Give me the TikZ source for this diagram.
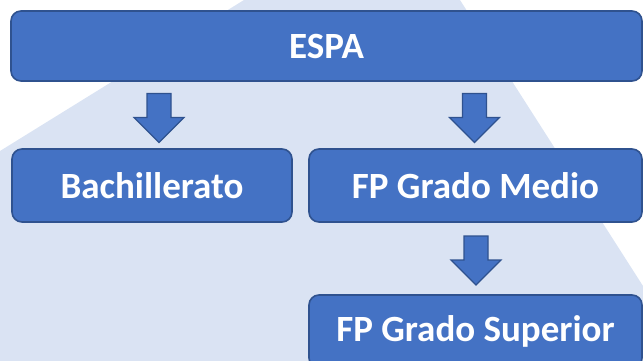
\documentclass[tikz,border=0pt]{standalone}
\usepackage{fontspec}
\setmainfont{Carlito}
\definecolor{boxfill}{HTML}{4472C4}
\definecolor{boxline}{HTML}{2F528F}
\definecolor{bgblue}{HTML}{DAE3F3}
\tikzset{
  stagebox/.style={rectangle, rounded corners=10pt, fill=boxfill, draw=boxline, line width=1.6pt,
    text=white, font=\fontsize{37}{44}\selectfont\bfseries, inner sep=0pt},
  blockarrow/.style={fill=boxfill, draw=boxline, line width=1.2pt, line join=miter}
}
\newcommand{\downblock}[1]{%
  \draw[blockarrow, shift={(#1)}] (-12,0) -- (12,0) -- (12,24) -- (25,24) -- (0,49)
    -- (-25,24) -- (-12,24) -- cycle;}
\begin{document}
\begin{tikzpicture}[x=1pt,y=-1pt]
\useasboundingbox (0,0) rectangle (643,361);
\clip (0,0) rectangle (643,361);
\fill[bgblue] (244,0) -- (460,0) -- (643,286) -- (643,361) -- (0,361) -- (0,151) -- cycle;
\node[stagebox, minimum width=631pt, minimum height=70pt] (espa) at (326.5,46) {ESPA};
\node[stagebox, minimum width=280pt, minimum height=73pt] (bach) at (152,185.5) {Bachillerato};
\node[stagebox, minimum width=333pt, minimum height=73pt] (medio) at (475.5,185.5) {FP Grado Medio};
\node[stagebox, minimum width=333pt, minimum height=73pt] (sup) at (475.5,331.5) {FP Grado Superior};
\coordinate (a1) at (159,93.5);
\coordinate (a2) at (474.5,93.5);
\coordinate (a3) at (476,236);
\downblock{a1}
\downblock{a2}
\downblock{a3}
\end{tikzpicture}
\end{document}
